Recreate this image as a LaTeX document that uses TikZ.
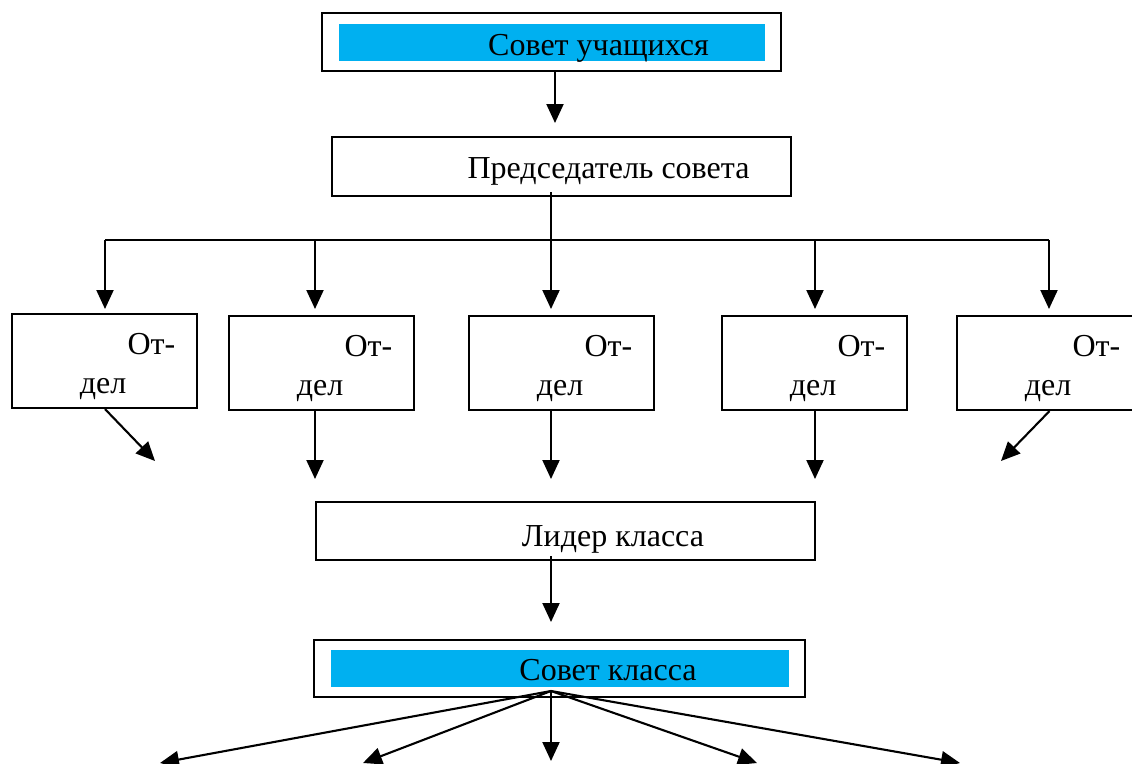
\documentclass[tikz,border=0pt]{standalone}
\usepackage{fontspec}
\setmainfont{Liberation Serif}
\usetikzlibrary{arrows.meta}
\definecolor{sky}{HTML}{00B0F0}
\tikzset{
  box/.style={draw, line width=2.1pt, rectangle, inner sep=0pt},
  bluebar/.style={fill=sky, rectangle, inner sep=0pt},
  lbl/.style={font=\fontsize{32}{37}\selectfont, inner sep=0pt, anchor=base},
  ln/.style={line width=2.1pt},
  arr/.style={line width=2.1pt, -{Triangle[width=17pt,length=19pt]}}
}
\begin{document}
\begin{tikzpicture}[x=1pt,y=-1pt]
\clip (0,0) rectangle (1132,763);
\fill[white] (0,0) rectangle (1132,763);
% top
\node[box, minimum width=459pt, minimum height=58pt] (top) at (551.5,42) {};
\node[bluebar, minimum width=426pt, minimum height=37pt] (topbar) at (552,42.5) {};
\node[lbl] (toptxt) at (598.5,55) {Совет учащихся};
% chairman
\node[box, minimum width=459pt, minimum height=59pt] (pred) at (561.5,166.5) {};
\node[lbl] (predtxt) at (608.5,178) {Председатель совета};
\coordinate (a1) at (555,123);
\draw[arr] (top.south -| a1) -- (a1);
% departments
\foreach \i/\x/\y in {1/104.5/361, 2/321.5/363, 3/561.5/363, 4/814.5/363, 5/1049.5/363}{
  \node[box, minimum width=185pt, minimum height=94pt] (o\i) at (\x,\y) {};
  \node[lbl] (oa\i) at ([xshift=47pt, yshift=7pt]o\i.center) {От-};
  \node[lbl] (ob\i) at ([xshift=-1.5pt, yshift=-32pt]o\i.center) {дел};
}
\coordinate (hub) at (551,240);
\coordinate (t1) at (105,309);
\coordinate (t2) at (315,309);
\coordinate (t3) at (551,309);
\coordinate (t4) at (815,309);
\coordinate (t5) at (1049,309);
\draw[ln] (t1 |- hub) -- (t5 |- hub);
\draw[arr] (t1 |- hub) -- (t1);
\draw[arr] (t2 |- hub) -- (t2);
\draw[arr] (t4 |- hub) -- (t4);
\draw[arr] (t5 |- hub) -- (t5);
\draw[arr] ([yshift=5pt]pred.south -| t3) -- (t3);
% leader
\node[box, minimum width=499pt, minimum height=58pt] (lid) at (565.5,531) {};
\node[lbl] (lidtxt) at (613,546.5) {Лидер класса};
\coordinate (d1) at (155,461);
\coordinate (d2) at (315,479);
\coordinate (d3) at (551,479);
\coordinate (d4) at (815,479);
\coordinate (d5) at (1001,461);
\draw[arr] ([xshift=0.5pt]o1.south) -- (d1);
\draw[arr] (o2.south -| d2) -- (d2);
\draw[arr] (o3.south -| d3) -- (d3);
\draw[arr] (o4.south -| d4) -- (d4);
\draw[arr] (o5.south) -- (d5);
% class council
\node[box, minimum width=491pt, minimum height=57pt] (sk) at (559.5,668.5) {};
\node[bluebar, minimum width=458pt, minimum height=37pt] (skbar) at (560,668.5) {};
\node[lbl] (sktxt) at (608,680) {Совет класса};
\coordinate (e0) at (551,622);
\draw[arr] ([yshift=5pt]lid.south -| e0) -- (e0);
\coordinate (hub2) at (551,691);
\coordinate (b1) at (160,763);
\coordinate (b2) at (363,763);
\coordinate (b3) at (551,761);
\coordinate (b4) at (757,763);
\coordinate (b5) at (960,763);
\foreach \k in {1,...,5}{
  \draw[arr] (hub2) -- (b\k);
}
\end{tikzpicture}
\end{document}
